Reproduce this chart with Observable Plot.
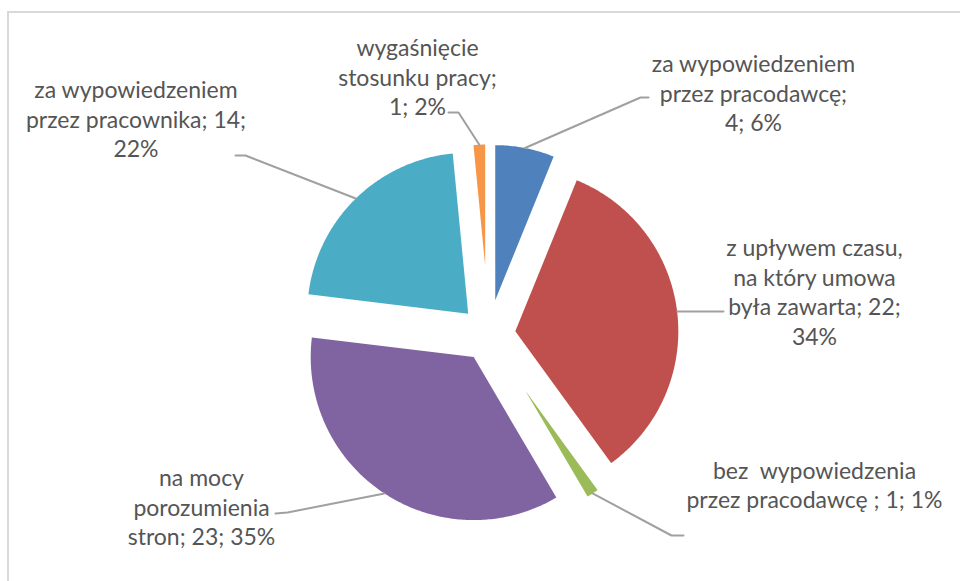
<!DOCTYPE html>
<html><head><meta charset="utf-8">
<script src="https://cdn.jsdelivr.net/npm/d3@7"></script>
<script src="https://cdn.jsdelivr.net/npm/@observablehq/plot@0.6"></script>
<style>
body{margin:0;background:#fff;}
#wrap{position:relative;width:960px;height:581px;overflow:hidden;}
#chart{position:absolute;left:0;top:0;}
#border{position:absolute;left:7px;top:11px;width:1200px;height:1200px;border-top:2px solid #d9d9d9;border-left:2px solid #d9d9d9;pointer-events:none;z-index:2;}
</style></head><body>
<div id="wrap"><div id="chart"></div><div id="border"></div></div>
<script>
// ---- data ----
const categories = [
  "za wypowiedzeniem przez pracodawcę",
  "z upływem czasu, na który umowa była zawarta",
  "bez  wypowiedzenia przez pracodawcę ",
  "na mocy porozumienia stron",
  "za wypowiedzeniem przez pracownika",
  "wygaśnięcie stosunku pracy"
];
const values = [4, 22, 1, 23, 14, 1];
const percents = ["6%", "34%", "1%", "35%", "22%", "2%"];
const labelTexts = [
  "za wypowiedzeniem\nprzez pracodawcę;\n4; 6%",
  "z upływem czasu,\nna który umowa\nbyła zawarta; 22;\n34%",
  "bez\u00a0 wypowiedzenia\nprzez pracodawcę ; 1; 1%",
  "na mocy\nporozumienia\nstron; 23; 35%",
  "za wypowiedzeniem\nprzez pracownika; 14;\n22%",
  "wygaśnięcie\nstosunku pracy;\n1; 2%"
];

// ---- style / layout ----
const sliceColors = ["#4F81BD", "#C0504D", "#9BBB59", "#8064A2", "#4BACC6", "#F79646"];
const explode = [35, 27, 67, 27, 29, 69];
const center = [488, 334];
const outerR = 190;
const labelPos = [[753, 92], [814, 290.5], [814, 483.5], [201, 506], [135.5, 118], [417, 76]];
const leaderBends = [
  [[640, 97], [648, 97]],
  [[700, 311], [723, 311]],
  [[671, 535], [683, 535]],
  [[287, 512], [275, 513]],
  [[245, 155], [235, 155]],
  [[458, 112], [448, 112]]
];

const arcs = d3.pie().sort(null).value(d => d)(values);
const slicePts = [];
const leaderPts = [];
arcs.forEach((p, i) => {
  const mid = (p.startAngle + p.endAngle) / 2;
  const vx = center[0] + explode[i] * Math.sin(mid);
  const vy = center[1] - explode[i] * Math.cos(mid);
  const r = outerR - explode[i];
  slicePts.push({s: i, x: vx, y: vy, color: sliceColors[i]});
  const n = Math.max(6, Math.ceil((p.endAngle - p.startAngle) * 80));
  for (let k = 0; k <= n; k++) {
    const a = p.startAngle + (p.endAngle - p.startAngle) * k / n;
    slicePts.push({s: i, x: vx + r * Math.sin(a), y: vy - r * Math.cos(a), color: sliceColors[i]});
  }
  leaderPts.push({s: i, x: vx + r * Math.sin(mid), y: vy - r * Math.cos(mid)});
  leaderBends[i].forEach(([x, y]) => leaderPts.push({s: i, x, y}));
});
const labels = labelTexts.map((t, i) => ({text: t, x: labelPos[i][0], y: labelPos[i][1], cat: categories[i], v: values[i], p: percents[i]}));

const chart = Plot.plot({
  width: 960, height: 581, margin: 0,
  x: {domain: [0, 960], range: [0, 960], axis: null},
  y: {domain: [0, 581], range: [0, 581], axis: null},
  color: {type: "identity"},
  style: {background: "transparent"},
  marks: [
    Plot.line(slicePts, {x: "x", y: "y", z: "s", fill: "color", stroke: "none", curve: "linear"}),
    Plot.line(leaderPts, {x: "x", y: "y", z: "s", stroke: "#a0a0a0", strokeWidth: 2, curve: "linear"}),
    Plot.text(labels, {x: "x", y: "y", text: "text", fill: "#555555", fontSize: 23, lineHeight: 1.28,
      fontFamily: "Lato", textAnchor: "middle", lineAnchor: "middle"})
  ]
});
document.getElementById("chart").appendChild(chart);
</script>
</body></html>
